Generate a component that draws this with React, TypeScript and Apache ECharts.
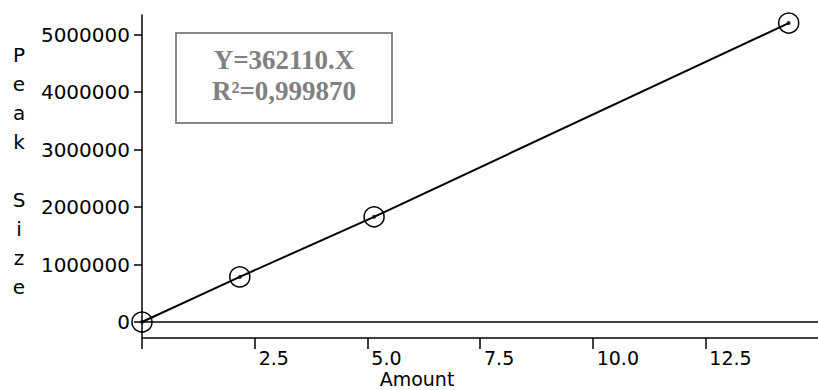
import React, { useEffect, useRef } from "react";
import * as echarts from "echarts";

const amounts = [0, 2.17, 5.15, 14.35];
const peakSizes = [0, 785000, 1830000, 5200000];
const yTicks = [0, 1000000, 2000000, 3000000, 4000000, 5000000];
const xTicks = [0, 2.5, 5, 7.5, 10, 12.5];
const xLabels = [2.5, 5, 7.5, 10, 12.5];
const equationLines = ["Y=362110.X", "R²=0,999870"];
const yAxisTitle = "Peak Size";
const xAxisTitle = "Amount";

const FONT = "'DejaVu Sans', sans-serif";

export default function App() {
  const ref = useRef<HTMLDivElement>(null);
  useEffect(() => {
    if (!ref.current) return;
    const chart = echarts.init(ref.current, null, { renderer: "svg" });
    const pts = amounts.map((a, i) => [a, peakSizes[i]]);
    const vertical = yAxisTitle.split(" ").map((w) => w.split("").join("\n")).join("\n\n");
    chart.setOption({
      animation: false,
      backgroundColor: "#fff",
      grid: { left: 142, right: 0, top: 15, bottom: 52, containLabel: false },
      xAxis: {
        type: "value",
        min: 0,
        max: 15,
        splitLine: { show: false },
        axisLine: { show: true, onZero: false, lineStyle: { color: "#000", width: 1.5 } },
        axisTick: { show: true, length: 11, customValues: xTicks, lineStyle: { color: "#000", width: 1.5 } },
        axisLabel: {
          customValues: xLabels,
          formatter: (v: number) => v.toFixed(1),
          align: "left",
          padding: [0, 0, 0, 4],
          margin: 10,
          color: "#000",
          fontFamily: FONT,
          fontSize: 19,
        },
      },
      yAxis: {
        type: "value",
        min: -278000,
        max: 5340000,
        splitLine: { show: false },
        axisLine: { show: true, onZero: false, lineStyle: { color: "#000", width: 1.5 } },
        axisTick: { show: true, length: 8, customValues: yTicks, lineStyle: { color: "#000", width: 1.5 } },
        axisLabel: {
          customValues: yTicks,
          formatter: (v: number) => String(v),
          margin: 12,
          color: "#000",
          fontFamily: FONT,
          fontSize: 20,
        },
      },
      series: [
        {
          type: "line",
          data: pts,
          clip: false,
          symbol: "circle",
          symbolSize: 20,
          itemStyle: { color: "rgba(0,0,0,0)", borderColor: "#000", borderWidth: 1.5 },
          lineStyle: { color: "#000", width: 2 },
          markLine: {
            silent: true,
            symbol: "none",
            label: { show: false },
            lineStyle: { color: "#000", width: 1.5, type: "solid" },
            data: [{ yAxis: 0 }],
          },
        },
        {
          type: "scatter",
          data: pts,
          clip: false,
          symbol: "circle",
          symbolSize: 4,
          itemStyle: { color: "#000" },
        },
      ],
      graphic: [
        {
          type: "rect",
          shape: { x: 176, y: 33, width: 216, height: 90 },
          style: { fill: "#fff", stroke: "#888", lineWidth: 2 },
          z: 10,
        },
        {
          type: "text",
          x: 284,
          y: 44,
          z: 11,
          style: {
            text: equationLines.join("\n"),
            fill: "#808080",
            font: "bold 27px 'Liberation Serif', 'Times New Roman', serif",
            lineHeight: 31,
            textAlign: "center",
            textVerticalAlign: "top",
          },
        },
        {
          type: "text",
          x: 19,
          y: 40,
          style: {
            text: vertical,
            fill: "#000",
            font: "20px " + FONT,
            lineHeight: 29,
            textAlign: "center",
            textVerticalAlign: "top",
          },
        },
        {
          type: "text",
          x: 417,
          y: 379,
          style: {
            text: xAxisTitle,
            fill: "#000",
            font: "19px " + FONT,
            textAlign: "center",
            textVerticalAlign: "middle",
          },
        },
      ],
    });
    return () => chart.dispose();
  }, []);
  return <div ref={ref} style={{ width: 818, height: 390, position: "absolute", left: 0, top: 0 }} />;
}
